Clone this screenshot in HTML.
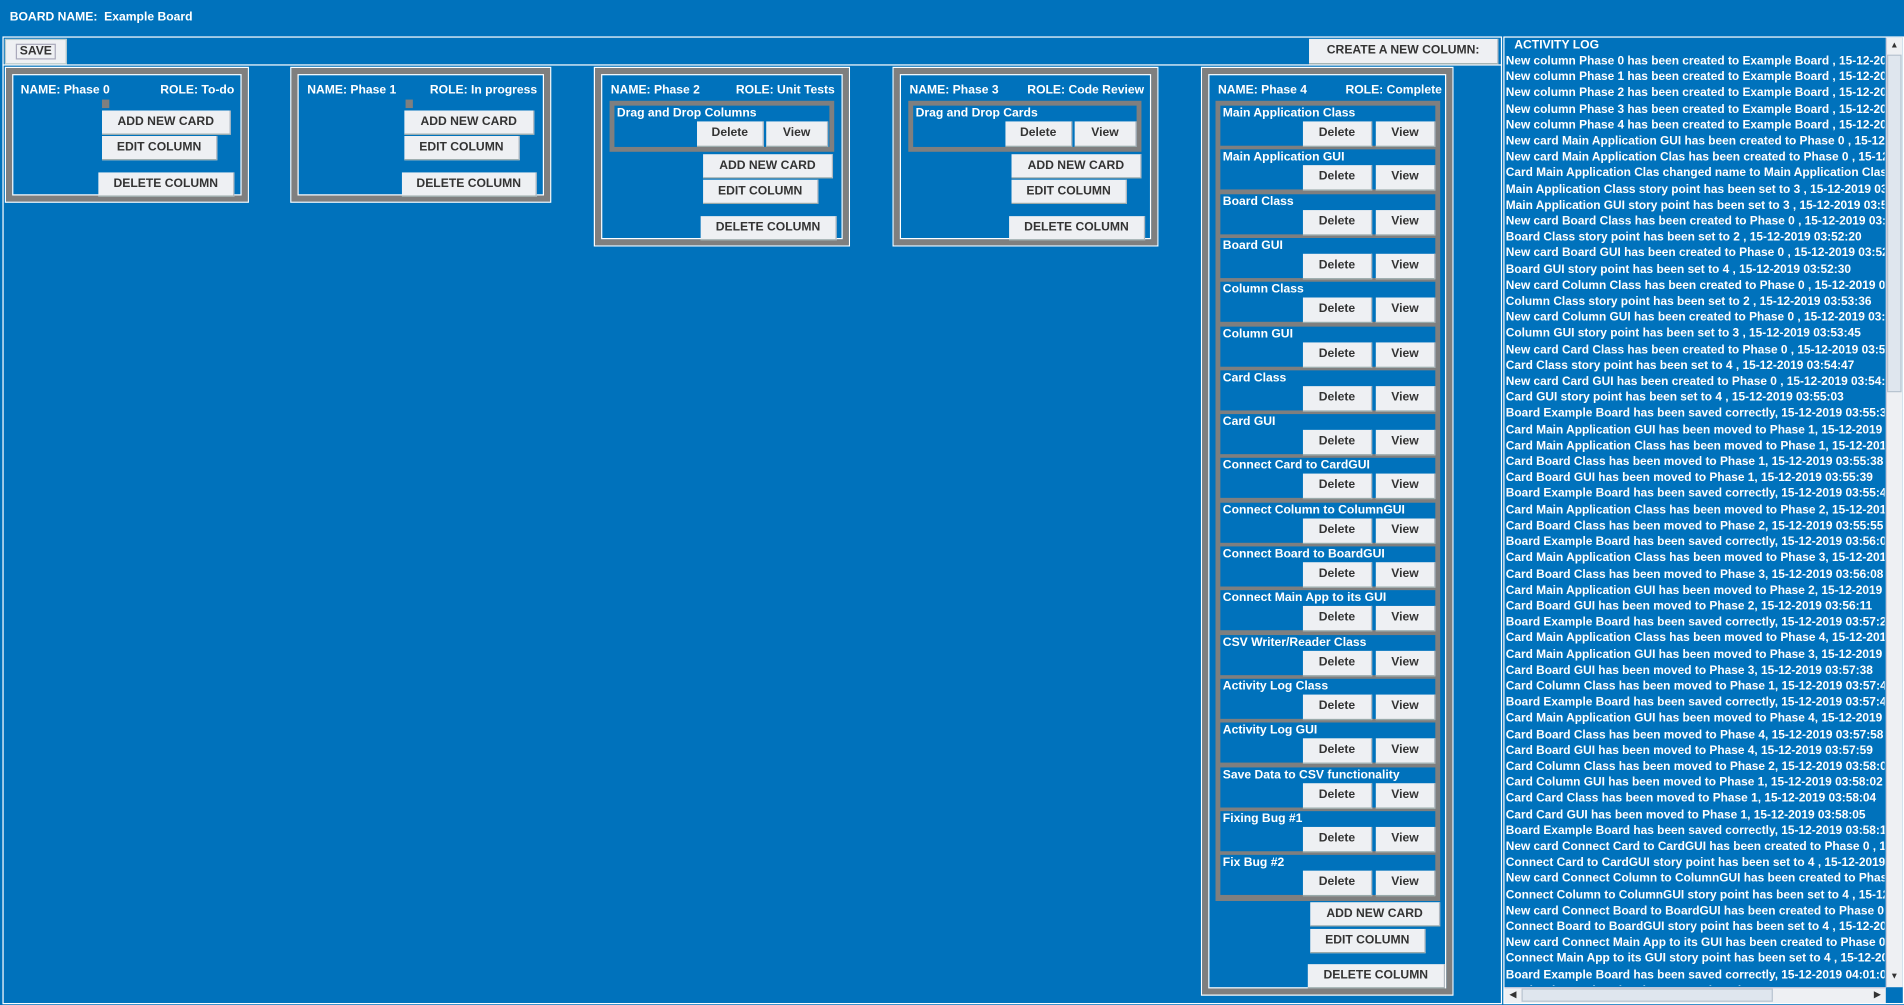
<!DOCTYPE html>
<html><head><meta charset="utf-8">
<style>
*{margin:0;padding:0;box-sizing:border-box}
html,body{width:1904px;height:1005px;overflow:hidden;background:#0072bc}
#w{position:absolute;left:0;top:0;width:1568px;height:828px;transform:scale(1.2143);transform-origin:0 0;background:#0072bc;font-family:"Liberation Sans",sans-serif;font-weight:bold;font-size:10px;color:#fff}
.a{position:absolute}
.t{position:absolute;white-space:nowrap;line-height:12px}
.b{position:absolute;background:#eef0f3;border-bottom:1px solid #9aa;border-right:1px solid #b0b8c0;color:#333;text-align:center;line-height:20px;white-space:nowrap;font-size:10px}
.col{position:absolute;border:1px solid #fff;}
.col>.g{position:absolute;left:0;top:0;right:0;bottom:0;border:5px solid #7f7f7f}
.col>.g>.i{position:absolute;left:0;top:0;right:0;bottom:0;border:1px solid #fff}
.cp{position:absolute;background:#7f7f7f}
.cd{position:absolute;left:4px;width:177px;height:33px;background:#0072bc}
.cd .t{left:2px;top:1px}
.cd .d{left:68px;top:13px;width:57px;height:21px}
.cd .v{left:128px;top:13px;width:49px;height:21px}
#log{position:absolute;left:1px;top:13px;width:380px;transform:scaleX(0.98);transform-origin:0 0;line-height:13.2px;white-space:nowrap}
</style></head><body><div id="w">
<div class="t" style="left:8px;top:9px">BOARD NAME:&nbsp; Example Board</div>
<div class="a" style="left:2px;top:30px;width:1235px;height:797px;border:1px solid #fff"></div>
<div class="a" style="left:2px;top:53px;width:1235px;height:1px;background:#fff"></div>
<div class="b" style="left:4px;top:32px;width:51px;height:21px;border:1px solid #bcc"><span style="border:1px solid #aab;padding:0 2px">SAVE</span></div>
<div class="b" style="left:1078px;top:32px;width:156px;height:21px">CREATE A NEW COLUMN:</div>

<!-- Phase 0 -->
<div class="col" style="left:4px;top:55px;width:201px;height:112px"><div class="g"><div class="i"></div></div></div>
<div class="t" style="left:17px;top:69px">NAME: Phase 0</div><div class="t" style="left:132px;top:69px">ROLE: To-do</div>
<div class="a" style="left:84px;top:82px;width:6px;height:7px;background:#7f7f7f"></div>
<div class="b" style="left:84px;top:91px;width:106px;height:20px">ADD NEW CARD</div>
<div class="b" style="left:84px;top:112px;width:95px;height:20px">EDIT COLUMN</div>
<div class="b" style="left:81px;top:142px;width:112px;height:20px">DELETE COLUMN</div>

<!-- Phase 1 -->
<div class="col" style="left:239px;top:55px;width:215px;height:112px"><div class="g"><div class="i"></div></div></div>
<div class="t" style="left:253px;top:69px">NAME: Phase 1</div><div class="t" style="left:354px;top:69px">ROLE: In progress</div>
<div class="a" style="left:334px;top:82px;width:6px;height:7px;background:#7f7f7f"></div>
<div class="b" style="left:333px;top:91px;width:107px;height:20px">ADD NEW CARD</div>
<div class="b" style="left:333px;top:112px;width:95px;height:20px">EDIT COLUMN</div>
<div class="b" style="left:331px;top:142px;width:111px;height:20px">DELETE COLUMN</div>

<!-- Phase 2 -->
<div class="col" style="left:489px;top:55px;width:211px;height:148px"><div class="g"><div class="i"></div></div></div>
<div class="t" style="left:503px;top:69px">NAME: Phase 2</div><div class="t" style="left:606px;top:69px">ROLE: Unit Tests</div>
<div class="cp" style="left:502px;top:83px;width:185px;height:42px"><div class="cd" style="top:4px;height:34px"><div class="t">Drag and Drop Columns</div><div class="b d" style="left:68px;width:55px">Delete</div><div class="b v" style="left:125px;width:51px">View</div></div></div>
<div class="b" style="left:579px;top:127px;width:107px;height:20px">ADD NEW CARD</div>
<div class="b" style="left:579px;top:148px;width:95px;height:20px">EDIT COLUMN</div>
<div class="b" style="left:577px;top:178px;width:112px;height:20px">DELETE COLUMN</div>

<!-- Phase 3 -->
<div class="col" style="left:735px;top:55px;width:219px;height:148px"><div class="g"><div class="i"></div></div></div>
<div class="t" style="left:749px;top:69px">NAME: Phase 3</div><div class="t" style="left:846px;top:69px">ROLE: Code Review</div>
<div class="cp" style="left:748px;top:83px;width:192px;height:42px"><div class="cd" style="top:4px;width:184px;height:34px"><div class="t">Drag and Drop Cards</div><div class="b d" style="left:76px;width:55px">Delete</div><div class="b v" style="left:133px;width:51px">View</div></div></div>
<div class="b" style="left:833px;top:127px;width:107px;height:20px">ADD NEW CARD</div>
<div class="b" style="left:833px;top:148px;width:95px;height:20px">EDIT COLUMN</div>
<div class="b" style="left:831px;top:178px;width:112px;height:20px">DELETE COLUMN</div>

<!-- Phase 4 -->
<div class="col" style="left:989px;top:55px;width:208px;height:765px"><div class="g"><div class="i"></div></div></div>
<div class="t" style="left:1003px;top:69px">NAME: Phase 4</div><div class="t" style="left:1108px;top:69px">ROLE: Complete</div>
<div class="cp" style="left:1001px;top:83px;width:185px;height:659px">
<div class="cd" style="top:4px"><div class="t">Main Application Class</div><div class="b d">Delete</div><div class="b v">View</div></div>
<div class="cd" style="top:40.3px"><div class="t">Main Application GUI</div><div class="b d">Delete</div><div class="b v">View</div></div>
<div class="cd" style="top:76.6px"><div class="t">Board Class</div><div class="b d">Delete</div><div class="b v">View</div></div>
<div class="cd" style="top:112.9px"><div class="t">Board GUI</div><div class="b d">Delete</div><div class="b v">View</div></div>
<div class="cd" style="top:149.2px"><div class="t">Column Class</div><div class="b d">Delete</div><div class="b v">View</div></div>
<div class="cd" style="top:185.5px"><div class="t">Column GUI</div><div class="b d">Delete</div><div class="b v">View</div></div>
<div class="cd" style="top:221.8px"><div class="t">Card Class</div><div class="b d">Delete</div><div class="b v">View</div></div>
<div class="cd" style="top:258.1px"><div class="t">Card GUI</div><div class="b d">Delete</div><div class="b v">View</div></div>
<div class="cd" style="top:294.4px"><div class="t">Connect Card to CardGUI</div><div class="b d">Delete</div><div class="b v">View</div></div>
<div class="cd" style="top:330.7px"><div class="t">Connect Column to ColumnGUI</div><div class="b d">Delete</div><div class="b v">View</div></div>
<div class="cd" style="top:367px"><div class="t">Connect Board to BoardGUI</div><div class="b d">Delete</div><div class="b v">View</div></div>
<div class="cd" style="top:403.3px"><div class="t">Connect Main App to its GUI</div><div class="b d">Delete</div><div class="b v">View</div></div>
<div class="cd" style="top:439.6px"><div class="t">CSV Writer/Reader Class</div><div class="b d">Delete</div><div class="b v">View</div></div>
<div class="cd" style="top:475.9px"><div class="t">Activity Log Class</div><div class="b d">Delete</div><div class="b v">View</div></div>
<div class="cd" style="top:512.2px"><div class="t">Activity Log GUI</div><div class="b d">Delete</div><div class="b v">View</div></div>
<div class="cd" style="top:548.5px"><div class="t">Save Data to CSV functionality</div><div class="b d">Delete</div><div class="b v">View</div></div>
<div class="cd" style="top:584.8px"><div class="t">Fixing Bug #1</div><div class="b d">Delete</div><div class="b v">View</div></div>
<div class="cd" style="top:621.1px"><div class="t">Fix Bug #2</div><div class="b d">Delete</div><div class="b v">View</div></div>
</div>
<div class="b" style="left:1079px;top:743px;width:107px;height:20px">ADD NEW CARD</div>
<div class="b" style="left:1079px;top:765px;width:95px;height:20px">EDIT COLUMN</div>
<div class="b" style="left:1077px;top:794px;width:113px;height:20px">DELETE COLUMN</div>

<!-- Activity log -->
<div class="a" style="left:1238px;top:30px;width:330px;height:797px;border:1px solid #fff;overflow:hidden"></div>
<div class="a" style="left:1239px;top:31px;width:313px;height:781px;overflow:hidden">
<div class="t" style="left:8px;top:1px">ACTIVITY LOG</div>
<div id="log">
New column Phase 0 has been created to Example Board , 15-12-2019<br>
New column Phase 1 has been created to Example Board , 15-12-2019<br>
New column Phase 2 has been created to Example Board , 15-12-2019<br>
New column Phase 3 has been created to Example Board , 15-12-2019<br>
New column Phase 4 has been created to Example Board , 15-12-2019<br>
New card Main Application GUI has been created to Phase 0 , 15-12-2019<br>
New card Main Application Clas has been created to Phase 0 , 15-12-2019<br>
Card Main Application Clas changed name to Main Application Class<br>
Main Application Class story point has been set to 3 , 15-12-2019 03:52<br>
Main Application GUI story point has been set to 3 , 15-12-2019 03:52<br>
New card Board Class has been created to Phase 0 , 15-12-2019 03:52<br>
Board Class story point has been set to 2 , 15-12-2019 03:52:20<br>
New card Board GUI has been created to Phase 0 , 15-12-2019 03:52<br>
Board GUI story point has been set to 4 , 15-12-2019 03:52:30<br>
New card Column Class has been created to Phase 0 , 15-12-2019 03:53<br>
Column Class story point has been set to 2 , 15-12-2019 03:53:36<br>
New card Column GUI has been created to Phase 0 , 15-12-2019 03:53<br>
Column GUI story point has been set to 3 , 15-12-2019 03:53:45<br>
New card Card Class has been created to Phase 0 , 15-12-2019 03:54<br>
Card Class story point has been set to 4 , 15-12-2019 03:54:47<br>
New card Card GUI has been created to Phase 0 , 15-12-2019 03:54:50<br>
Card GUI story point has been set to 4 , 15-12-2019 03:55:03<br>
Board Example Board has been saved correctly, 15-12-2019 03:55:30<br>
Card Main Application GUI has been moved to Phase 1, 15-12-2019 03:55<br>
Card Main Application Class has been moved to Phase 1, 15-12-2019<br>
Card Board Class has been moved to Phase 1, 15-12-2019 03:55:38<br>
Card Board GUI has been moved to Phase 1, 15-12-2019 03:55:39<br>
Board Example Board has been saved correctly, 15-12-2019 03:55:45<br>
Card Main Application Class has been moved to Phase 2, 15-12-2019<br>
Card Board Class has been moved to Phase 2, 15-12-2019 03:55:55<br>
Board Example Board has been saved correctly, 15-12-2019 03:56:00<br>
Card Main Application Class has been moved to Phase 3, 15-12-2019<br>
Card Board Class has been moved to Phase 3, 15-12-2019 03:56:08<br>
Card Main Application GUI has been moved to Phase 2, 15-12-2019 03:56<br>
Card Board GUI has been moved to Phase 2, 15-12-2019 03:56:11<br>
Board Example Board has been saved correctly, 15-12-2019 03:57:20<br>
Card Main Application Class has been moved to Phase 4, 15-12-2019<br>
Card Main Application GUI has been moved to Phase 3, 15-12-2019 03:57<br>
Card Board GUI has been moved to Phase 3, 15-12-2019 03:57:38<br>
Card Column Class has been moved to Phase 1, 15-12-2019 03:57:40<br>
Board Example Board has been saved correctly, 15-12-2019 03:57:45<br>
Card Main Application GUI has been moved to Phase 4, 15-12-2019 03:57<br>
Card Board Class has been moved to Phase 4, 15-12-2019 03:57:58<br>
Card Board GUI has been moved to Phase 4, 15-12-2019 03:57:59<br>
Card Column Class has been moved to Phase 2, 15-12-2019 03:58:00<br>
Card Column GUI has been moved to Phase 1, 15-12-2019 03:58:02<br>
Card Card Class has been moved to Phase 1, 15-12-2019 03:58:04<br>
Card Card GUI has been moved to Phase 1, 15-12-2019 03:58:05<br>
Board Example Board has been saved correctly, 15-12-2019 03:58:10<br>
New card Connect Card to CardGUI has been created to Phase 0 , 15-12-2019<br>
Connect Card to CardGUI story point has been set to 4 , 15-12-2019<br>
New card Connect Column to ColumnGUI has been created to Phase 0<br>
Connect Column to ColumnGUI story point has been set to 4 , 15-12-2019<br>
New card Connect Board to BoardGUI has been created to Phase 0 , 15<br>
Connect Board to BoardGUI story point has been set to 4 , 15-12-2019<br>
New card Connect Main App to its GUI has been created to Phase 0 , 15<br>
Connect Main App to its GUI story point has been set to 4 , 15-12-2019<br>
Board Example Board has been saved correctly, 15-12-2019 04:01:00<br>
Card Column Class has been moved to Phase 3, 15-12-2019 04:01:10
</div>
</div>
<!-- scrollbars -->
<div class="a" style="left:1553px;top:31px;width:14px;height:782px;background:#eef0f3;border-left:1px solid #ccd"></div>
<div class="a" style="left:1554px;top:31px;width:12px;height:14px;font-size:7px;color:#333;text-align:center;line-height:14px">▲</div>
<div class="a" style="left:1554px;top:45px;width:12px;height:278px;background:#dfe6ee;border:1px solid #b8c4d0"></div>
<div class="a" style="left:1554px;top:798px;width:12px;height:14px;font-size:7px;color:#333;text-align:center;line-height:14px">▼</div>
<div class="a" style="left:1239px;top:813px;width:314px;height:13px;background:#eef0f3;border-top:1px solid #ccd"></div>
<div class="a" style="left:1240px;top:813px;width:12px;height:13px;font-size:7px;color:#333;line-height:13px;text-align:center">◀</div>
<div class="a" style="left:1253px;top:814px;width:207px;height:11px;background:#dfe6ee;border:1px solid #b8c4d0"></div>
<div class="a" style="left:1540px;top:813px;width:12px;height:13px;font-size:7px;color:#333;line-height:13px;text-align:center">▶</div>
</div></body></html>
